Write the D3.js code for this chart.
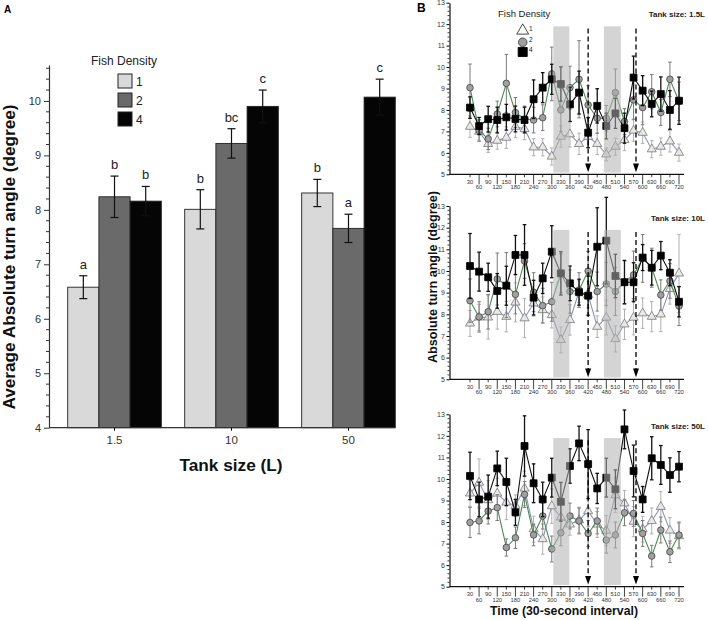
<!DOCTYPE html>
<html><head><meta charset="utf-8">
<script src="https://cdn.jsdelivr.net/npm/d3@7"></script>
<style>body{margin:0;background:#fff}svg{display:block;font-family:Arial,"Liberation Sans",sans-serif}</style>
</head><body><svg id="c" width="708" height="620"></svg>
<script>
// ---------- Panel A data ----------
const tankSizes = ["1.5", "10", "50"];
const densities = ["1", "2", "4"];
const meanD1 = [6.58, 8.01, 8.31];
const meanD2 = [8.24, 9.22, 7.66];
const meanD4 = [8.16, 9.90, 10.07];
const seD1 = [0.21, 0.36, 0.25];
const seD2 = [0.38, 0.27, 0.26];
const seD4 = [0.27, 0.30, 0.33];
const lettersD1 = ["a", "b", "b"];
const lettersD2 = ["b", "bc", "a"];
const lettersD4 = ["b", "c", "c"];
const yTicksA = [4, 5, 6, 7, 8, 9, 10];

// ---------- Panel B data ----------
const times = [30,60,90,120,150,180,210,240,270,300,330,360,390,420,450,480,510,540,570,600,630,660,690,720];
const oddTimes = [30,90,150,210,270,330,390,450,510,570,630,690];
const evenTimes = [60,120,180,240,300,360,420,480,540,600,660,720];
const yTicksB = [5,6,7,8,9,10,11,12,13];
const panelTitles = ["Tank size: 1.5L", "Tank size: 10L", "Tank size: 50L"];
const shadedWindows = [[305, 358], [472, 528]];
const arrowTimes = [420, 578];

const p1d1 = [7.22,6.99,6.42,6.57,6.71,7.22,7.11,6.26,6.26,5.83,6.76,6.87,6.42,6.75,6.42,5.93,6.29,6.60,7.04,6.94,6.17,6.29,6.54,6.01];
const p1d2 = [9.04,7.04,6.65,7.81,9.24,7.88,7.58,7.53,7.64,9.68,8.00,9.04,9.43,8.23,7.61,7.61,8.81,7.46,8.47,8.11,8.85,7.88,9.43,8.40];
const p1d4 = [8.11,7.25,7.57,7.53,7.66,7.58,7.53,8.50,9.04,9.43,9.21,8.26,8.81,6.94,8.19,7.25,7.84,7.15,9.51,8.90,8.28,8.74,8.00,8.43];
const p1e1 = [0.5,0.4,0.4,0.4,0.5,0.5,0.5,0.4,0.4,0.4,0.5,0.6,0.5,0.5,0.5,0.3,0.4,0.5,0.5,0.5,0.4,0.4,0.5,0.4];
const p1e2 = [1.1,0.5,0.5,0.6,1.35,0.7,0.6,0.6,0.6,1.25,1.0,1.0,1.8,0.9,0.7,0.6,1.1,0.6,0.9,0.8,0.8,0.6,0.8,0.9];
const p1e4 = [0.5,0.4,0.6,0.6,0.6,0.6,0.6,0.9,0.7,0.7,0.8,0.8,1.0,0.7,0.8,0.6,0.7,0.7,1.0,0.7,0.6,0.8,0.9,1.1];

const p2d1 = [7.58,7.86,7.86,8.12,7.89,8.55,7.82,8.51,8.20,7.97,6.82,7.74,9.05,8.90,7.43,7.85,6.86,7.54,7.85,8.05,7.89,8.00,9.17,9.89];
const p2d2 = [8.63,7.88,8.12,9.63,9.35,8.92,10.46,9.02,8.40,8.58,9.89,9.05,9.12,10.00,9.05,9.40,9.05,9.50,9.82,10.58,10.15,8.89,9.54,8.38];
const p2d4 = [10.23,9.97,9.71,9.08,9.32,10.74,10.74,8.77,9.66,10.89,9.89,9.43,9.02,8.86,11.12,11.40,9.77,9.48,9.48,10.62,10.15,10.71,9.92,8.58];
const p2e1 = [0.6,0.6,1.0,0.8,0.7,0.9,0.9,0.6,0.6,0.6,0.6,0.7,0.5,0.6,0.5,0.8,0.6,0.7,0.8,0.7,0.7,0.8,0.7,1.8];
const p2e2 = [1.0,0.7,0.8,1.2,1.5,0.9,0.8,0.9,0.8,0.9,0.9,1.0,0.8,0.9,0.9,1.0,1.1,1.0,1.1,1.1,0.9,0.7,0.8,0.9];
const p2e4 = [1.5,0.9,0.65,0.8,0.9,0.9,1.4,0.8,0.7,1.2,1.0,0.8,0.6,0.9,1.8,2.0,1.0,1.0,0.9,0.6,0.8,0.65,0.6,0.7];

const p3d1 = [9.33,9.83,9.02,9.33,8.91,8.76,9.56,7.67,7.21,8.74,8.22,7.89,8.09,8.51,7.89,7.60,9.25,8.87,8.02,7.67,8.05,8.71,7.61,7.35];
const p3d2 = [7.98,8.05,8.51,8.67,6.82,7.27,9.28,7.40,8.28,6.75,7.50,8.28,8.05,7.47,8.05,7.16,7.40,8.43,8.40,7.47,6.42,7.63,6.62,7.40];
const p3d4 = [10.14,9.05,9.18,10.49,9.86,8.45,11.53,9.80,9.05,10.06,8.94,10.60,11.65,10.69,9.56,10.06,9.52,12.30,10.37,9.05,10.96,10.65,10.18,10.57];
const p3e1 = [0.6,1.1,0.9,0.7,0.8,0.5,0.8,0.6,0.7,0.8,0.6,0.5,0.6,0.7,0.6,0.7,0.8,0.6,0.7,0.6,0.6,0.7,0.6,0.6];
const p3e2 = [0.7,0.6,0.6,0.6,0.4,0.5,0.6,0.5,0.6,0.6,0.6,0.6,0.6,0.6,0.6,0.6,0.6,0.6,0.6,0.6,0.5,0.6,0.5,0.6];
const p3e4 = [1.1,0.8,1.0,0.8,1.1,0.6,1.4,0.9,0.8,0.9,0.9,0.8,0.8,1.6,0.7,0.9,0.9,0.9,1.2,0.6,1.0,0.9,0.8,0.7];

// ================= drawing =================
const svg = d3.select("#c");

// ---------- Panel A ----------
(function(){
  const yA = d3.scaleLinear().domain([4, 10.66]).range([427.7, 65]);
  const xA = d3.scaleBand().domain(tankSizes).range([49, 414]).paddingInner(0.2).paddingOuter(0.16);
  const xIn = d3.scaleBand().domain(densities).range([0, xA.bandwidth()]);
  const fills = {"1":"#d9d9d9","2":"#6a6a6a","4":"#050505"};
  const means = {"1":meanD1,"2":meanD2,"4":meanD4};
  const ses = {"1":seD1,"2":seD2,"4":seD4};
  const lets = {"1":lettersD1,"2":lettersD2,"4":lettersD4};
  const g = svg.append("g");
  const rows = [];
  tankSizes.forEach((t,i)=>densities.forEach(d=>rows.push({t,d,m:means[d][i],s:ses[d][i],l:lets[d][i]})));
  const cx = r=>xA(r.t)+xIn(r.d)+xIn.bandwidth()/2;
  g.selectAll("rect.bar").data(rows).join("rect")
    .attr("x", r=>xA(r.t)+xIn(r.d)).attr("width", xIn.bandwidth())
    .attr("y", r=>yA(r.m)).attr("height", r=>yA(4)-yA(r.m))
    .attr("fill", r=>fills[r.d]).attr("stroke","#222").attr("stroke-width",0.9);
  const eb = g.selectAll("g.eb").data(rows).join("g").attr("stroke","#111").attr("stroke-width",1.2);
  eb.append("line").attr("x1",cx).attr("x2",cx).attr("y1",r=>yA(r.m-r.s)).attr("y2",r=>yA(r.m+r.s));
  eb.append("line").attr("x1",r=>cx(r)-4).attr("x2",r=>cx(r)+4).attr("y1",r=>yA(r.m+r.s)).attr("y2",r=>yA(r.m+r.s));
  eb.append("line").attr("x1",r=>cx(r)-4).attr("x2",r=>cx(r)+4).attr("y1",r=>yA(r.m-r.s)).attr("y2",r=>yA(r.m-r.s));
  g.selectAll("text.let").data(rows).join("text")
    .attr("x", cx).attr("y", r=>yA(r.m+r.s)-7)
    .attr("text-anchor","middle").attr("font-size",13).attr("fill","#222").text(r=>r.l);
  // y axis
  const yAx = d3.axisLeft(yA).tickValues(yTicksA).tickSize(5).tickSizeOuter(0).tickFormat(d3.format("d"));
  const ga = svg.append("g").attr("transform","translate(49,0)").call(yAx);
  ga.selectAll("text").attr("font-size",11).attr("fill","#333").attr("font-family","Arial,'Liberation Sans'");
  ga.select(".domain").attr("stroke","#333").attr("stroke-width",1.2);
  ga.selectAll(".tick line").attr("stroke","#333");
  const minor = d3.range(4, 10.61, 0.2).filter(v=>Math.abs(v-Math.round(v))>0.01);
  svg.append("g").selectAll("line").data(minor).join("line")
    .attr("x1",46).attr("x2",49).attr("y1",d=>yA(d)).attr("y2",d=>yA(d)).attr("stroke","#333");
  // x axis
  const xAx = d3.axisBottom(xA).tickSize(3);
  const gx = svg.append("g").attr("transform",`translate(0,${yA(4)})`).call(xAx);
  gx.select(".domain").remove();
  gx.selectAll("text").attr("font-size",11.5).attr("fill","#333").attr("dy","0.9em").attr("font-family","Arial,'Liberation Sans'");
  svg.append("line").attr("x1",49).attr("x2",395).attr("y1",yA(4)).attr("y2",yA(4)).attr("stroke","#333").attr("stroke-width",1.2);
  // labels
  svg.append("text").attr("transform","translate(15,257) rotate(-90)").attr("text-anchor","middle")
    .attr("font-size",16.5).attr("font-weight","bold").attr("fill","#111")
    .attr("textLength",305).attr("lengthAdjust","spacingAndGlyphs").text("Average Absolute turn angle (degree)");
  svg.append("text").attr("x",231).attr("y",471).attr("text-anchor","middle")
    .attr("font-size",17).attr("font-weight","bold").attr("fill","#111")
    .attr("textLength",103).attr("lengthAdjust","spacingAndGlyphs").text("Tank size (L)");
  svg.append("text").attr("x",4).attr("y",13).attr("font-size",10).attr("font-weight","bold").text("A");
  // legend
  svg.append("text").attr("x",91).attr("y",65).attr("font-size",12).attr("fill","#222").text("Fish Density");
  densities.forEach((d,i)=>{
    svg.append("rect").attr("x",118).attr("y",74+i*19).attr("width",14).attr("height",14)
      .attr("fill",fills[d]).attr("stroke","#222");
    svg.append("text").attr("x",136).attr("y",86+i*19).attr("font-size",12).attr("fill","#222").text(d);
  });
})();

// ---------- Panel B ----------
const x = d3.scaleLinear().domain([30,720]).range([470,679]);
const panels = [
  {y5:174.3, y13:2.7, d1:p1d1,d2:p1d2,d4:p1d4,e1:p1e1,e2:p1e2,e4:p1e4},
  {y5:379.3, y13:206, d1:p2d1,d2:p2d2,d4:p2d4,e1:p2e1,e2:p2e2,e4:p2e4},
  {y5:586.7, y13:414.3, d1:p3d1,d2:p3d2,d4:p3d4,e1:p3e1,e2:p3e2,e4:p3e4}
];
const styles = {
  d1:{line:"#8a96b4", err:"#b0b0b0", fill:"#e8e8e8", stroke:"#777", shape:d3.symbolTriangle, size:36},
  d2:{line:"#4f8a58", err:"#7a7a7a", fill:"#a0a0a0", stroke:"#444", shape:d3.symbolCircle, size:34},
  d4:{line:"#111", err:"#111", fill:"#000", stroke:"#000", shape:d3.symbolSquare, size:48}
};
panels.forEach((p,pi)=>{
  const y = d3.scaleLinear().domain([5,13]).range([p.y5,p.y13]);
  const g = svg.append("g");
  ["d1","d2","d4"].forEach(k=>{
    const st = styles[k];
    const vals = p[k], errs = p["e"+k.slice(1)];
    const pts = times.map((t,i)=>({t,v:vals[i],e:errs[i]}));
    const eg = g.append("g").attr("stroke",st.err).attr("stroke-width",k==="d4"?1.3:1);
    eg.selectAll("line.v").data(pts).join("line").attr("x1",d=>x(d.t)).attr("x2",d=>x(d.t)).attr("y1",d=>y(d.v-d.e)).attr("y2",d=>y(d.v+d.e));
    eg.selectAll("line.t").data(pts).join("line").attr("x1",d=>x(d.t)-1.8).attr("x2",d=>x(d.t)+1.8).attr("y1",d=>y(d.v+d.e)).attr("y2",d=>y(d.v+d.e));
    eg.selectAll("line.b").data(pts).join("line").attr("x1",d=>x(d.t)-1.8).attr("x2",d=>x(d.t)+1.8).attr("y1",d=>y(d.v-d.e)).attr("y2",d=>y(d.v-d.e));
    g.append("path").datum(pts).attr("fill","none").attr("stroke",st.line).attr("stroke-width",1.1)
      .attr("d", d3.line().x(d=>x(d.t)).y(d=>y(d.v)));
    g.selectAll(null).data(pts).join("path")
      .attr("transform",d=>`translate(${x(d.t)},${y(d.v)})`)
      .attr("d", d3.symbol().type(st.shape).size(st.size))
      .attr("fill",st.fill).attr("stroke",st.stroke).attr("stroke-width",0.8);
  });
  // shaded windows
  shadedWindows.forEach(w=>{
    g.append("rect").attr("x",x(w[0])).attr("width",x(w[1])-x(w[0]))
      .attr("y",y(11.9)).attr("height",y(5.08)-y(11.9)).attr("fill","#b0b0b0").attr("opacity",0.55);
  });
  // dashed arrows
  arrowTimes.forEach(t=>{
    g.append("line").attr("x1",x(t)).attr("x2",x(t)).attr("y1",y(11.8)).attr("y2",y(5.45))
      .attr("stroke","#000").attr("stroke-width",1.3).attr("stroke-dasharray","5,3");
    g.append("path").attr("d",`M${x(t)-3},${y(5.5)} L${x(t)+3},${y(5.5)} L${x(t)},${y(5.1)} Z`).attr("fill","#000");
  });
  // y axis
  const ya = svg.append("g").attr("transform","translate(449.5,0)")
    .call(d3.axisLeft(y).tickValues(yTicksB).tickSize(3).tickSizeOuter(0).tickFormat(d3.format("d")));
  ya.selectAll("text").attr("font-size",7).attr("fill","#333").attr("dx","0.2em");
  ya.select(".domain").attr("stroke","#111").attr("stroke-width",1.2);
  const mnr = d3.range(5, 12.91, 0.2).filter(v=>Math.abs(v-Math.round(v))>0.01);
  svg.append("g").selectAll("line").data(mnr).join("line")
    .attr("x1",447.5).attr("x2",449.5).attr("y1",d=>y(d)).attr("y2",d=>y(d)).attr("stroke","#111").attr("stroke-width",0.8);
  // x axis
  svg.append("line").attr("x1",449.5).attr("x2",684).attr("y1",y(5)).attr("y2",y(5)).attr("stroke","#111").attr("stroke-width",1.2);
  const xa = svg.append("g").attr("transform",`translate(0,${y(5)})`);
  xa.selectAll("line").data(evenTimes).join("line").attr("x1",d=>x(d)).attr("x2",d=>x(d)).attr("y1",0).attr("y2",10).attr("stroke","#111").attr("stroke-width",0.8);
  xa.selectAll("line.o").data(oddTimes).join("line").attr("x1",d=>x(d)).attr("x2",d=>x(d)).attr("y1",0).attr("y2",3).attr("stroke","#111").attr("stroke-width",0.8);
  xa.selectAll("text.o").data(oddTimes).join("text").attr("x",d=>x(d)).attr("y",9.5).attr("text-anchor","middle").attr("font-size",5.8).attr("fill","#333").text(d=>d);
  xa.selectAll("text.e").data(evenTimes).join("text").attr("x",d=>x(d)).attr("y",15).attr("text-anchor","middle").attr("font-size",5.8).attr("fill","#333").text(d=>d);
  // title
  svg.append("text").attr("x",705).attr("y",y(12.45)+3).attr("text-anchor","end").attr("font-size",8).attr("font-weight","bold").attr("fill","#222").text(panelTitles[pi]);
});
// B legend
svg.append("text").attr("x",498).attr("y",17).attr("font-size",9.5).attr("fill","#222").text("Fish Density");
[["d1","1"],["d2","2"],["d4","4"]].forEach(([k,lab],i)=>{
  const st = styles[k];
  svg.append("path").attr("transform",`translate(522.7,${[30.7,42.3,52][i]})`)
    .attr("d", d3.symbol().type(st.shape).size(st.size*1.7))
    .attr("fill",k==="d1"?"#fff":st.fill).attr("stroke",k==="d1"?"#333":st.stroke).attr("stroke-width",0.9);
  svg.append("text").attr("x",529).attr("y",[30.7,42.3,52][i]).attr("font-size",6.5).attr("fill","#222").text(lab);
});
svg.append("text").attr("x",417).attr("y",12).attr("font-size",12).attr("font-weight","bold").text("B");
svg.append("text").attr("transform","translate(437,277) rotate(-90)").attr("text-anchor","middle")
  .attr("font-size",13.5).attr("font-weight","bold").attr("fill","#111")
  .attr("textLength",172).attr("lengthAdjust","spacingAndGlyphs").text("Absolute turn angle (degree)");
svg.append("text").attr("x",564).attr("y",615).attr("text-anchor","middle")
  .attr("font-size",13).attr("font-weight","bold").attr("fill","#111")
  .attr("textLength",148).attr("lengthAdjust","spacingAndGlyphs").text("Time (30-second interval)");
</script></body></html>
